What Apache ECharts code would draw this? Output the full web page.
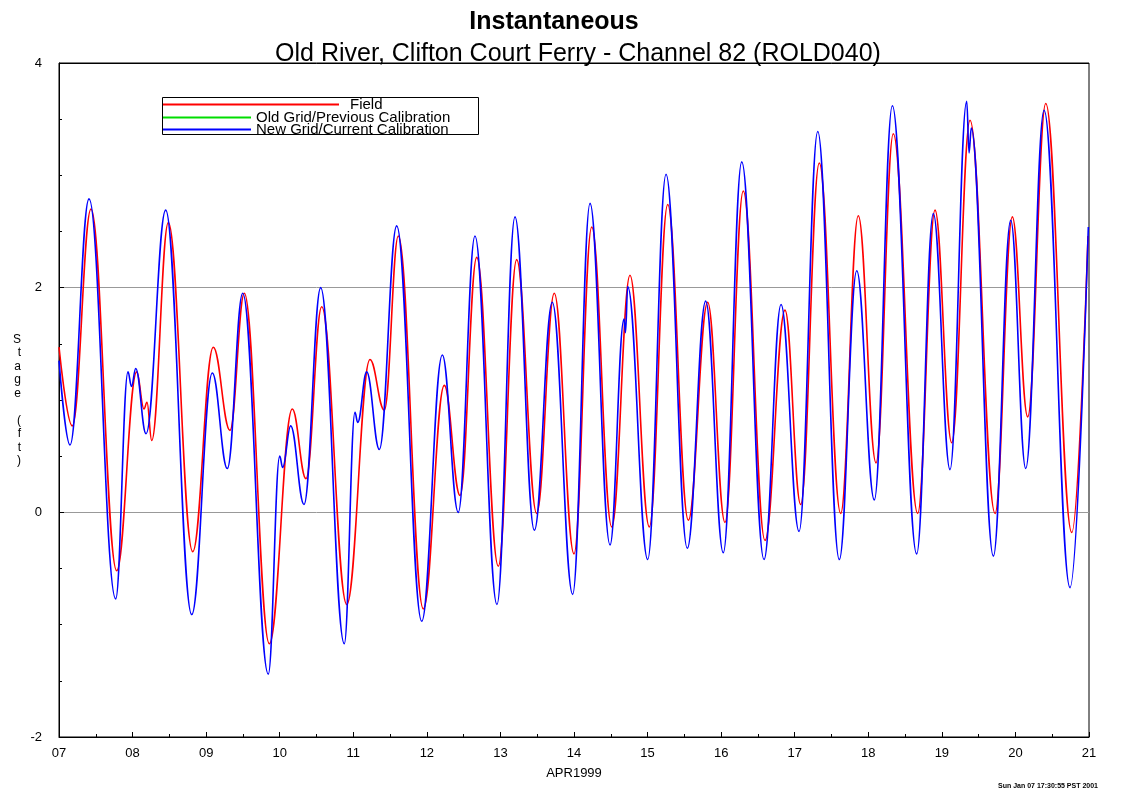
<!DOCTYPE html>
<html><head><meta charset="utf-8">
<script src="https://cdn.jsdelivr.net/npm/echarts@6/dist/echarts.min.js"></script>
<style>html,body{margin:0;padding:0;background:#fff}#c{width:1128px;height:796px}</style>
</head><body><div id="c"></div>
<script>
// Time in days of April 1999 (7 = Apr 07 00:00), stage in ft
const fieldTimes = [7.000,7.181,7.435,7.784,8.056,8.155,8.196,8.260,8.486,8.817,9.097,9.324,9.519,9.859,10.171,10.357,10.571,10.911,11.227,11.422,11.612,11.952,12.237,12.451,12.678,12.971,13.221,13.493,13.732,14.000,14.241,14.513,14.761,15.024,15.274,15.554,15.817,16.052,16.301,16.596,16.868,17.081,17.334,17.625,17.864,18.105,18.340,18.672,18.907,19.134,19.383,19.723,19.958,20.167,20.412,20.766,20.987];
const fieldValues = [1.47,0.77,2.70,-0.52,1.25,0.92,0.98,0.64,2.58,-0.35,1.47,0.73,1.95,-1.17,0.92,0.30,1.83,-0.82,1.36,0.91,2.46,-0.86,1.13,0.15,2.27,-0.48,2.25,-0.01,1.95,-0.37,2.54,-0.13,2.11,-0.13,2.74,-0.07,1.87,-0.09,2.86,-0.25,1.80,0.07,3.11,-0.01,2.64,0.44,3.37,-0.01,2.69,0.62,3.49,-0.01,2.63,0.85,3.64,-0.18,2.46];
const oldGridTimes = [];
const oldGridValues = [];
const newGridTimes = [7.000,7.150,7.408,7.771,7.938,7.985,8.043,8.183,8.450,8.804,9.084,9.288,9.497,9.845,10.000,10.040,10.149,10.330,10.557,10.878,11.023,11.060,11.182,11.354,11.590,11.930,12.210,12.427,12.654,12.953,13.198,13.461,13.705,13.982,14.218,14.490,14.680,14.700,14.730,15.002,15.251,15.540,15.790,16.029,16.280,16.583,16.814,17.059,17.313,17.606,17.843,18.082,18.327,18.658,18.884,19.111,19.338,19.370,19.400,19.700,19.936,20.140,20.389,20.742,20.991];
const newGridValues = [1.35,0.60,2.79,-0.77,1.25,1.12,1.28,0.70,2.69,-0.91,1.24,0.39,1.95,-1.44,0.50,0.40,0.77,0.07,2.00,-1.17,0.89,0.80,1.25,0.56,2.55,-0.97,1.40,0.00,2.46,-0.82,2.63,-0.16,1.87,-0.73,2.75,-0.29,1.72,1.60,2.01,-0.42,3.01,-0.32,1.88,-0.36,3.12,-0.42,1.85,-0.17,3.39,-0.42,2.15,0.11,3.62,-0.37,2.66,0.38,3.66,3.20,3.42,-0.39,2.60,0.39,3.58,-0.67,2.54];
const xTickLabels = ['07','08','09','10','11','12','13','14','15','16','17','18','19','20','21'];
const yTickLabels = ['-2','0','2','4'];
const seriesNames = ['Field','Old Grid/Previous Calibration','New Grid/Current Calibration'];
const seriesColors = ['#ff0000','#00dd00','#0000ff'];

const zip = (t, v) => t.map((x, i) => [x, v[i]]);
const chart = echarts.init(document.getElementById('c'), null, {renderer: 'canvas'});
const FONT = 'Liberation Sans';
const legendBase = {
  orient: 'vertical', left: 163, padding: 0, icon: 'rect', itemHeight: 2,
  textStyle: {fontFamily: FONT, fontSize: 15, color: '#000', lineHeight: 13}, selectedMode: false
};
chart.setOption({
  animation: false,
  backgroundColor: '#fff',
  title: [
    {text: 'Instantaneous', left: 549, top: 5, textAlign: 'center',
     textStyle: {fontFamily: FONT, fontSize: 25, fontWeight: 'bold', color: '#000'}},
    {text: 'Old River, Clifton Court Ferry - Channel 82 (ROLD040)', left: 573, top: 37, textAlign: 'center',
     textStyle: {fontFamily: FONT, fontSize: 25, fontWeight: 'normal', color: '#000'}}
  ],
  legend: [
    Object.assign({}, legendBase, {top: 97, itemWidth: 176, data: [seriesNames[0]], textStyle: Object.assign({}, legendBase.textStyle, {padding: [0,0,0,6]})}),
    Object.assign({}, legendBase, {top: 110, itemWidth: 88, data: [seriesNames[1]]}),
    Object.assign({}, legendBase, {top: 122, itemWidth: 88, data: [seriesNames[2]]})
  ],
  graphic: [
    {type: 'rect', shape: {x: 162.5, y: 97.5, width: 316, height: 37}, style: {fill: 'none', stroke: '#000', lineWidth: 1}, z: 100},
    {type: 'text', right: 30, top: 783, style: {text: 'Sun Jan 07 17:30:55 PST 2001', font: 'bold 7px "Liberation Sans"', fill: '#000'}}
  ],
  grid: {left: 59, right: 39, top: 63, bottom: 59, show: true, borderColor: '#000', borderWidth: 1},
  xAxis: {
    type: 'value', min: 7, max: 21, interval: 1,
    name: 'APR1999', nameLocation: 'middle', nameGap: 30,
    nameTextStyle: {fontFamily: FONT, fontSize: 13, color: '#000'},
    axisLine: {onZero: false, lineStyle: {color: '#000', width: 1}},
    axisTick: {inside: true, length: 5, lineStyle: {color: '#000'}},
    minorTick: {show: true, splitNumber: 2, length: 3, lineStyle: {color: '#000'}},
    axisLabel: {fontFamily: FONT, fontSize: 13, color: '#000', margin: 10,
      formatter: v => xTickLabels[Math.round(v) - 7]},
    splitLine: {show: false}
  },
  yAxis: {
    type: 'value', min: -2, max: 4, interval: 2,
    name: 'S\nt\na\ng\ne\n\n(\nf\nt\n)', nameLocation: 'middle', nameRotate: 0, nameGap: 38,
    nameTextStyle: {fontFamily: FONT, fontSize: 12, color: '#000', lineHeight: 13.5},
    axisLine: {onZero: false, lineStyle: {color: '#000', width: 1}},
    axisTick: {inside: true, length: 5, lineStyle: {color: '#000'}},
    minorTick: {show: true, splitNumber: 4, length: 3, lineStyle: {color: '#000'}},
    axisLabel: {fontFamily: FONT, fontSize: 13, color: '#000', margin: 17,
      formatter: v => yTickLabels[Math.round((v + 2) / 2)]},
    splitLine: {show: true, lineStyle: {color: ['#000', '#999', '#999', '#000'], width: 1}}
  },
  series: [
    {name: seriesNames[0], type: 'line', data: zip(fieldTimes, fieldValues), symbol: 'none',
     smooth: 0.4, smoothMonotone: 'x', lineStyle: {color: seriesColors[0], width: 1.6}, itemStyle: {color: seriesColors[0]}, z: 2},
    {name: seriesNames[1], type: 'line', data: zip(oldGridTimes, oldGridValues), symbol: 'none',
     smooth: 0.4, smoothMonotone: 'x', lineStyle: {color: seriesColors[1], width: 1.6}, itemStyle: {color: seriesColors[1]}, z: 3},
    {name: seriesNames[2], type: 'line', data: zip(newGridTimes, newGridValues), symbol: 'none',
     smooth: 0.4, smoothMonotone: 'x', lineStyle: {color: seriesColors[2], width: 1.6}, itemStyle: {color: seriesColors[2]}, z: 4}
  ]
});
</script></body></html>
